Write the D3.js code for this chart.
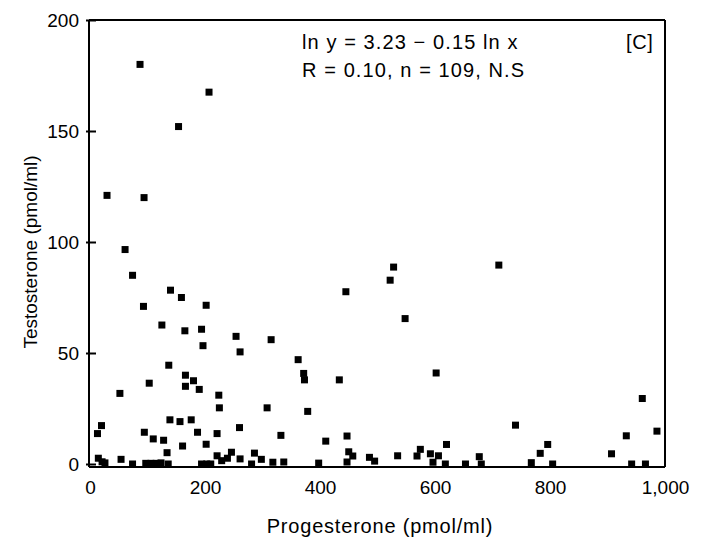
<!DOCTYPE html>
<html>
<head>
<meta charset="utf-8">
<script src="https://cdn.jsdelivr.net/npm/d3@7"></script>
<style>
  html, body { margin: 0; padding: 0; background: #fff; }
  svg text { font-family: "Liberation Sans", Arial, sans-serif; fill: #000; }
</style>
</head>
<body>
<svg id="chart" width="702" height="544"></svg>
<script>
// Progesterone (x, pmol/ml) and testosterone (y, pmol/ml) per subject
const progesterone = [
  87, 207, 154, 29.6, 94, 61, 74, 140, 159, 93, 202, 528, 522, 711, 445, 548,
  125, 165, 194, 254, 315, 196.5, 261, 362, 137, 166, 180, 103, 166, 190, 52, 224,
  225, 308, 371.6, 373, 433.6, 602, 378.6,
  139, 156.5, 176, 20, 13, 94.5, 110, 128, 187, 221, 260, 332, 161, 202, 134, 221,
  229, 239, 246, 261, 286, 298, 318, 337, 281, 14.5, 21, 26, 54, 74, 97, 106, 115,
  123.5, 136, 194, 203, 210, 410, 447, 450, 457, 447, 397.7, 486, 495, 535, 568.7,
  574.5, 592, 606, 596.5, 620, 618, 653, 677, 680.5, 740, 796, 783, 767.5, 804.6,
  960.5, 986, 932.7, 907, 942, 966
];
const testosterone = [
  180, 167.5, 152, 121, 120, 96.6, 85, 78.3, 75, 71, 71.5, 88.7, 82.8, 89.6, 77.6, 65.5,
  62.6, 60, 60.7, 57.5, 56, 53.3, 50.5, 47, 44.5, 40, 37.5, 36.4, 35, 33.6, 31.8, 31,
  25.3, 25.3, 40.8, 37.9, 37.9, 41, 23.7,
  19.9, 19.1, 19.9, 17.3, 13.7, 14.3, 11.3, 10.7, 14.3, 13.7, 16.4, 12.9, 8.1, 8.9, 5.1, 3.7,
  1.5, 2.6, 5.3, 2.3, 4.9, 2.1, 0.8, 0.9, 0, 2.6, 1, 0.5, 2.1, 0, 0.3, 0.3, 0.3,
  0.5, 0, 0, 0, 0, 10.3, 12.6, 5.5, 3.6, 0.9, 0.4, 3, 1.3, 3.7, 3.6,
  6.6, 4.6, 3.7, 0.8, 8.8, 0, 0, 3.3, 0, 17.5, 8.8, 4.8, 0.6, 0,
  29.5, 14.8, 12.7, 4.6, 0, 0
];

const xTicks = [0, 200, 400, 600, 800, 1000];
const xTickLabels = ["0", "200", "400", "600", "800", "1,000"];
const yTicks = [0, 50, 100, 150, 200];

const regressionText = ["ln y = 3.23 \u2212 0.15 ln x", "R = 0.10, n = 109, N.S"];
const panelLabel = "[C]";

const svg = d3.select("#chart");
const plotLeft = 90, plotRight = 665, plotTop = 20, plotBottom = 464;

const x = d3.scaleLinear().domain([0, 1000]).range([plotLeft, plotRight]);
const y = d3.scaleLinear().domain([0, 200]).range([plotBottom, plotTop]);

// frame around the plotting area
const frame = svg.append("g").attr("stroke", "#000").attr("fill", "none");
frame.append("line").attr("x1", plotLeft - 1).attr("x2", plotLeft - 1).attr("y1", plotTop).attr("y2", plotBottom + 3).attr("stroke-width", 2);
frame.append("line").attr("x1", plotLeft - 1).attr("x2", plotRight).attr("y1", plotBottom + 3).attr("y2", plotBottom + 3).attr("stroke-width", 2.2);
frame.append("line").attr("x1", plotLeft - 1).attr("x2", plotRight).attr("y1", plotTop).attr("y2", plotTop).attr("stroke-width", 2);
frame.append("line").attr("x1", plotRight).attr("x2", plotRight).attr("y1", plotTop).attr("y2", plotBottom + 3).attr("stroke-width", 2);

// y axis: ticks crossing the axis line
const yAxis = svg.append("g")
  .attr("transform", `translate(${plotLeft - 1},0)`)
  .call(d3.axisLeft(y).tickValues(yTicks).tickSize(0).tickPadding(10));
yAxis.select(".domain").remove();
yAxis.selectAll(".tick line").attr("x1", -3).attr("x2", 7).attr("stroke", "#000").attr("stroke-width", 2);
yAxis.selectAll(".tick text").attr("font-size", 19);

// x axis labels
const xAxis = svg.append("g")
  .attr("transform", `translate(0,${plotBottom + 3})`)
  .call(d3.axisBottom(x).tickValues(xTicks).tickFormat((d, i) => xTickLabels[i]).tickSize(0).tickPadding(14));
xAxis.select(".domain").remove();
xAxis.selectAll(".tick text").attr("font-size", 19);

// axis titles
svg.append("text")
  .attr("x", 380).attr("y", 533)
  .attr("text-anchor", "middle").attr("font-size", 20).attr("letter-spacing", 0.8)
  .text("Progesterone (pmol/ml)");
svg.append("text")
  .attr("transform", `translate(37,252) rotate(-90)`)
  .attr("text-anchor", "middle").attr("font-size", 19)
  .text("Testosterone (pmol/ml)");

// data points as filled squares
const size = 7;
svg.append("g").selectAll("rect")
  .data(d3.range(progesterone.length))
  .join("rect")
  .attr("x", i => x(progesterone[i]) - size / 2)
  .attr("y", i => y(testosterone[i]) - size / 2)
  .attr("width", size).attr("height", size)
  .attr("fill", "#000");

// regression annotation and panel label
svg.append("g").selectAll("text")
  .data(regressionText)
  .join("text")
  .attr("x", 302).attr("y", (d, i) => 49 + i * 28)
  .attr("font-size", 20).attr("letter-spacing", 1.1)
  .text(d => d);
svg.append("text")
  .attr("x", 626).attr("y", 49)
  .attr("font-size", 20).attr("letter-spacing", 0.6)
  .text(panelLabel);
</script>
</body>
</html>
